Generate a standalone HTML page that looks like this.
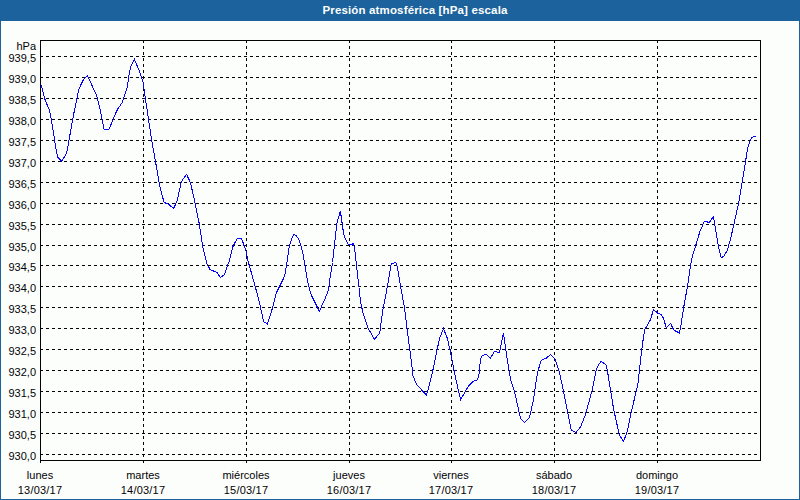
<!DOCTYPE html><html><head><meta charset="utf-8"><title>Presión atmosférica</title><style>
html,body{margin:0;padding:0;}
body{width:800px;height:500px;position:relative;overflow:hidden;background:#fcfefc;font-family:"Liberation Sans",sans-serif;font-size:11px;color:#040204;}
#hdr{position:absolute;left:0;top:0;width:800px;height:21px;background:#1c629c;}
#ttl{position:absolute;left:322px;top:3px;width:186px;height:14px;line-height:14px;color:#fcfefc;font-weight:bold;font-size:11.5px;letter-spacing:0.15px;white-space:nowrap;text-align:center;}
#bl{position:absolute;left:0;top:0;width:1px;height:500px;background:#1c629c;}
#br{position:absolute;left:799px;top:0;width:1px;height:500px;background:#1c629c;}
#bb{position:absolute;left:0;top:499px;width:800px;height:1px;background:#1c629c;}
.yl{position:absolute;left:0;width:36px;text-align:right;height:13px;line-height:13px;white-space:nowrap;}
.xl{position:absolute;width:80px;text-align:center;height:13px;line-height:13px;white-space:nowrap;}
</style></head><body>
<div id="hdr"></div><div id="bl"></div><div id="br"></div><div id="bb"></div>
<div id="ttl">Presión atmosférica [hPa] escala</div>
<svg width="800" height="500" viewBox="0 0 800 500" style="position:absolute;left:0;top:0" shape-rendering="crispEdges">
<line x1="40" y1="56.5" x2="758" y2="56.5" stroke="#040204" stroke-width="1" stroke-dasharray="3 3"/>
<line x1="40" y1="77.5" x2="758" y2="77.5" stroke="#040204" stroke-width="1" stroke-dasharray="3 3"/>
<line x1="40" y1="98.5" x2="758" y2="98.5" stroke="#040204" stroke-width="1" stroke-dasharray="3 3"/>
<line x1="40" y1="119.5" x2="758" y2="119.5" stroke="#040204" stroke-width="1" stroke-dasharray="3 3"/>
<line x1="40" y1="140.5" x2="758" y2="140.5" stroke="#040204" stroke-width="1" stroke-dasharray="3 3"/>
<line x1="40" y1="161.5" x2="758" y2="161.5" stroke="#040204" stroke-width="1" stroke-dasharray="3 3"/>
<line x1="40" y1="182.5" x2="758" y2="182.5" stroke="#040204" stroke-width="1" stroke-dasharray="3 3"/>
<line x1="40" y1="203.5" x2="758" y2="203.5" stroke="#040204" stroke-width="1" stroke-dasharray="3 3"/>
<line x1="40" y1="224.5" x2="758" y2="224.5" stroke="#040204" stroke-width="1" stroke-dasharray="3 3"/>
<line x1="40" y1="245.5" x2="758" y2="245.5" stroke="#040204" stroke-width="1" stroke-dasharray="3 3"/>
<line x1="40" y1="265.5" x2="758" y2="265.5" stroke="#040204" stroke-width="1" stroke-dasharray="3 3"/>
<line x1="40" y1="286.5" x2="758" y2="286.5" stroke="#040204" stroke-width="1" stroke-dasharray="3 3"/>
<line x1="40" y1="307.5" x2="758" y2="307.5" stroke="#040204" stroke-width="1" stroke-dasharray="3 3"/>
<line x1="40" y1="328.5" x2="758" y2="328.5" stroke="#040204" stroke-width="1" stroke-dasharray="3 3"/>
<line x1="40" y1="349.5" x2="758" y2="349.5" stroke="#040204" stroke-width="1" stroke-dasharray="3 3"/>
<line x1="40" y1="370.5" x2="758" y2="370.5" stroke="#040204" stroke-width="1" stroke-dasharray="3 3"/>
<line x1="40" y1="391.5" x2="758" y2="391.5" stroke="#040204" stroke-width="1" stroke-dasharray="3 3"/>
<line x1="40" y1="412.5" x2="758" y2="412.5" stroke="#040204" stroke-width="1" stroke-dasharray="3 3"/>
<line x1="40" y1="433.5" x2="758" y2="433.5" stroke="#040204" stroke-width="1" stroke-dasharray="3 3"/>
<line x1="40" y1="454.5" x2="758" y2="454.5" stroke="#040204" stroke-width="1" stroke-dasharray="3 3"/>
<line x1="143.5" y1="40" x2="143.5" y2="460" stroke="#040204" stroke-width="1" stroke-dasharray="3 3"/>
<rect x="143" y="460" width="1" height="3" fill="#040204"/>
<line x1="246.5" y1="40" x2="246.5" y2="460" stroke="#040204" stroke-width="1" stroke-dasharray="3 3"/>
<rect x="246" y="460" width="1" height="3" fill="#040204"/>
<line x1="349.5" y1="40" x2="349.5" y2="460" stroke="#040204" stroke-width="1" stroke-dasharray="3 3"/>
<rect x="349" y="460" width="1" height="3" fill="#040204"/>
<line x1="451.5" y1="40" x2="451.5" y2="460" stroke="#040204" stroke-width="1" stroke-dasharray="3 3"/>
<rect x="451" y="460" width="1" height="3" fill="#040204"/>
<line x1="554.5" y1="40" x2="554.5" y2="460" stroke="#040204" stroke-width="1" stroke-dasharray="3 3"/>
<rect x="554" y="460" width="1" height="3" fill="#040204"/>
<line x1="657.5" y1="40" x2="657.5" y2="460" stroke="#040204" stroke-width="1" stroke-dasharray="3 3"/>
<rect x="657" y="460" width="1" height="3" fill="#040204"/>
<rect x="40" y="40" width="721" height="1" fill="#040204"/>
<rect x="40" y="460" width="721" height="1" fill="#040204"/>
<rect x="40" y="40" width="1" height="423" fill="#040204"/>
<rect x="760" y="40" width="1" height="421" fill="#040204"/>
<polyline points="41.2,85 44.4,98 49.5,110.6 51,117.5 56.6,152.5 57.9,157.5 61.6,161 66,154.4 67.25,150 73.5,115 76.6,100 79,88.75 83.5,79.4 87.5,75.6 96.6,95.6 100.4,111 104,129.4 109,129.4 116,112.5 117.9,108.75 122.25,102.5 123.75,98 127.25,87.5 129.4,72.5 130.6,66.9 134.4,59.4 138.75,69.4 143.1,82.5 145.6,100 148.5,119.4 151.6,140 155.4,161 159.75,186.25 164.1,202.5 169.1,204.4 173.5,208.75 177.25,200.6 181,183 182.9,179.4 186.6,174.4 190.4,182.5 194.4,200 199.4,224.4 202.5,245.6 206.9,263.75 210,269.4 216.9,272.5 220.25,277.25 224.4,275 227.5,265 229.4,261 232.5,247.5 235,242.5 237.5,238 241.25,238 242.5,241 246.25,252 248.1,261.25 255,285.6 260,305 263.75,321.9 267.5,324 272.5,308 276.25,293 280.5,284.5 284.7,276 286.9,262.5 289.4,245.6 291.25,240 293.5,234.4 296.25,235.6 298.75,239.4 301.25,246.25 303.1,254.4 307.5,281.25 310,291.25 311.9,296.25 319.4,311.25 327.5,293 328.75,288.75 329.75,280 332.5,262.5 334.4,245 336.9,223 340.4,211.25 343.1,230 344.4,236.9 348.1,244.4 350,245 353.1,243.75 354.4,246.9 358.75,285 360.6,302.5 363.1,313.1 367.5,326.9 374.4,339.4 379.75,333.1 382.5,311.9 386.9,289 391.25,263.75 395.6,262.5 396.9,265 400.6,286.25 404.4,307.5 408.5,340 410,351.25 413.1,376.25 416.9,385 426.5,395 428.1,390 432.5,372 436.9,351 439.4,338.75 443.5,328.75 447.5,338.75 450,350 454.4,372.5 460.6,400 465,391.9 468.75,385.6 473.1,381.25 476.9,380 478.75,376.25 480.6,359 481.9,356.25 486.1,354 490.3,358.4 494.4,351.25 499,352.5 500,350 503.5,333.1 506.25,353 510.6,380 514.4,391.25 520.6,418.75 524.4,422.5 529.4,417.5 533.5,400 535,388.75 536.9,376.25 538.1,370.6 541,360.6 546.25,358.1 550.6,354.4 555,358.75 559.4,372.5 563.5,391 571.25,430 576,432.5 580.6,426.9 585.3,415 590.3,397 591.9,391.25 596.25,370 598.1,365.6 601.25,361.25 606.25,365 607.5,371.25 613.75,410 619.4,435 623.5,441.25 626.9,433 631.25,412 636.25,391.25 638.1,382.5 641.25,353.75 643.75,335 645,329.4 650.6,319.4 653.5,309.4 657.5,313 661.25,314.4 663.1,317.5 666.25,327.5 670.6,323.5 673.75,330 679.4,333.1 680.6,327.5 683.75,306.9 687.5,286.25 690.6,265 692.5,255.6 695.6,246 700,231.25 704.4,221.25 709.4,222.5 713.1,216.9 714.4,221.9 718.1,245 721.25,258 723.75,256.25 726.9,251.25 730,241.25 733.75,225 738.75,202.5 742.25,182 745.6,161.25 747.5,148.75 750,141.25 751.9,137.5 755.6,136" fill="none" stroke="#0402fc" stroke-width="1" stroke-linejoin="miter"/>
</svg>
<div class="yl" style="top:40px">hPa</div>
<div class="yl" style="top:52px">939,5</div>
<div class="yl" style="top:73px">939,0</div>
<div class="yl" style="top:94px">938,5</div>
<div class="yl" style="top:115px">938,0</div>
<div class="yl" style="top:136px">937,5</div>
<div class="yl" style="top:157px">937,0</div>
<div class="yl" style="top:178px">936,5</div>
<div class="yl" style="top:199px">936,0</div>
<div class="yl" style="top:220px">935,5</div>
<div class="yl" style="top:241px">935,0</div>
<div class="yl" style="top:261px">934,5</div>
<div class="yl" style="top:282px">934,0</div>
<div class="yl" style="top:303px">933,5</div>
<div class="yl" style="top:324px">933,0</div>
<div class="yl" style="top:345px">932,5</div>
<div class="yl" style="top:366px">932,0</div>
<div class="yl" style="top:387px">931,5</div>
<div class="yl" style="top:408px">931,0</div>
<div class="yl" style="top:429px">930,5</div>
<div class="yl" style="top:450px">930,0</div>
<div class="xl" style="left:0px;top:469px">lunes</div>
<div class="xl" style="left:0px;top:484px;letter-spacing:0.2px">13/03/17</div>
<div class="xl" style="left:103px;top:469px">martes</div>
<div class="xl" style="left:103px;top:484px;letter-spacing:0.2px">14/03/17</div>
<div class="xl" style="left:206px;top:469px">miércoles</div>
<div class="xl" style="left:206px;top:484px;letter-spacing:0.2px">15/03/17</div>
<div class="xl" style="left:309px;top:469px">jueves</div>
<div class="xl" style="left:309px;top:484px;letter-spacing:0.2px">16/03/17</div>
<div class="xl" style="left:411px;top:469px">viernes</div>
<div class="xl" style="left:411px;top:484px;letter-spacing:0.2px">17/03/17</div>
<div class="xl" style="left:514px;top:469px">sábado</div>
<div class="xl" style="left:514px;top:484px;letter-spacing:0.2px">18/03/17</div>
<div class="xl" style="left:617px;top:469px">domingo</div>
<div class="xl" style="left:617px;top:484px;letter-spacing:0.2px">19/03/17</div>
</body></html>
